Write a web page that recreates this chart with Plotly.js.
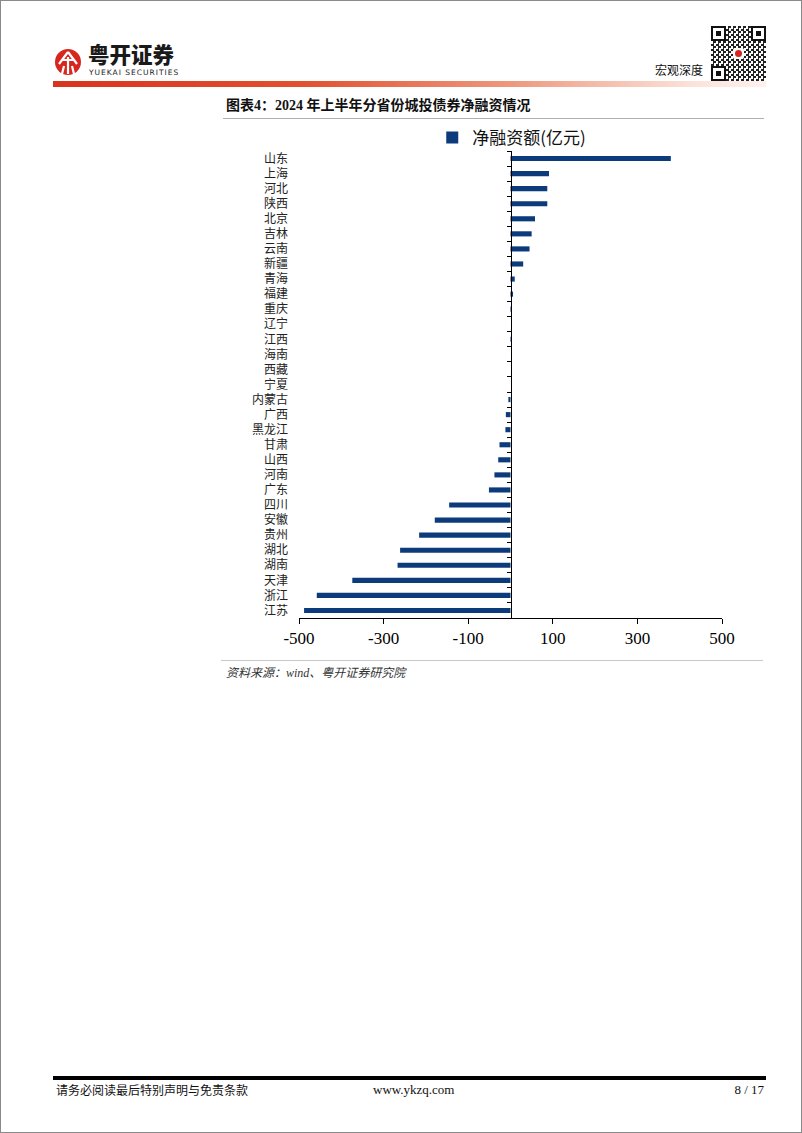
<!DOCTYPE html>
<html>
<head>
<meta charset="utf-8">
<script src="https://cdn.plot.ly/plotly-3.0.1.min.js"></script>
<style>
  html, body { margin:0; padding:0; background:#fff; }
  #page { position:relative; width:802px; height:1133px; box-sizing:border-box; border:1px solid #8a8a8a; overflow:hidden; font-family:"Liberation Serif","Noto Sans CJK SC",serif; }
  .abs { position:absolute; white-space:nowrap; }
  #chart { position:absolute; left:0; top:0; width:802px; height:700px; }
</style>
</head>
<body>
<div id="page">
  <!-- header logo -->
  <svg class="abs" style="left:52px;top:46px" width="30" height="30" viewBox="0 0 30 30">
    <circle cx="15" cy="15" r="13" fill="#d7261e"/>
    <path d="M15 5 L6 17 M15 5 L24 17 M9 13 H21 M15 10 V27 M11 19 L9 27 M19 19 L21 27" stroke="#fff" stroke-width="2.2" fill="none"/>
  </svg>
  <div class="abs" style="left:87px;top:42px;font-family:'Noto Sans CJK SC';font-weight:900;font-size:21.5px;color:#1a1a1a;line-height:22px">粤开证券</div>
  <div class="abs" style="left:88px;top:67px;font-family:'DejaVu Sans';font-size:7.5px;letter-spacing:1px;color:#1a1a1a;line-height:9px">YUEKAI SECURITIES</div>
  <div class="abs" style="left:654px;top:62px;font-family:'Noto Sans CJK SC';font-size:12px;color:#111;line-height:14px">宏观深度</div>
  <!-- QR -->
  <div class="abs" style="left:710px;top:25px;width:55px;height:55px;background:repeating-conic-gradient(#222 0 25%, #fff 0 50%) 0 0/5px 5px;">
    <div class="abs" style="left:0;top:0;width:11px;height:11px;border:2px solid #111;background:#fff"><div style="margin:3px;width:5px;height:5px;background:#111"></div></div>
    <div class="abs" style="left:40px;top:0;width:11px;height:11px;border:2px solid #111;background:#fff"><div style="margin:3px;width:5px;height:5px;background:#111"></div></div>
    <div class="abs" style="left:0;top:40px;width:11px;height:11px;border:2px solid #111;background:#fff"><div style="margin:3px;width:5px;height:5px;background:#111"></div></div>
    <div class="abs" style="left:22px;top:22px;width:11px;height:11px;background:#fff;border-radius:2px"><div style="margin:2px;width:7px;height:7px;background:#d7261e;border-radius:50%"></div></div>
  </div>
  <!-- gradient bar -->
  <div class="abs" style="left:52px;top:80px;width:713px;height:6px;background:linear-gradient(to right,#d9331c 0%,#e2502f 35%,#ee9a80 65%,#fbe3dc 90%,#fdf1ee 100%)"></div>
  <!-- title -->
  <div class="abs" style="left:225px;top:96px;font-family:'Liberation Serif','Noto Sans CJK SC';font-weight:bold;font-size:14px;color:#111;line-height:18px">图表4：2024 年上半年分省份城投债券净融资情况</div>
  <div class="abs" style="left:222px;top:117px;width:541px;height:1px;background:#b0b0b0"></div>
  <div id="chart"></div>
  <div class="abs" style="left:220px;top:659px;width:542px;height:1px;background:#c8c8c8"></div>
  <div class="abs" style="left:225px;top:664px;font-family:'Liberation Serif','Noto Sans CJK SC';font-style:italic;font-size:12px;color:#333;line-height:16px">资料来源：wind、粤开证券研究院</div>
  <!-- footer -->
  <div class="abs" style="left:52px;top:1075px;width:713px;height:4px;background:#000"></div>
  <div class="abs" style="left:55px;top:1081px;font-family:'Noto Sans CJK SC';font-size:12px;color:#111;line-height:16px">请务必阅读最后特别声明与免责条款</div>
  <div class="abs" style="left:372px;top:1081px;font-family:'Liberation Serif';font-size:13px;color:#111;line-height:16px">www.ykzq.com</div>
  <div class="abs" style="left:729px;top:1081px;width:34px;text-align:right;font-family:'Liberation Serif';font-size:13px;color:#111;line-height:16px">8 / 17</div>
</div>
<script>
const provinces = ["山东","上海","河北","陕西","北京","吉林","云南","新疆","青海","福建","重庆","辽宁","江西","海南","西藏","宁夏","内蒙古","广西","黑龙江","甘肃","山西","河南","广东","四川","安徽","贵州","湖北","湖南","天津","浙江","江苏"];
const netFinancing = [379,91,87,87,58,50,45,30,10,6,2,0,3,0,0,0,-5,-11,-12,-26,-29,-38,-51,-145,-179,-216,-261,-267,-374,-458,-488];
const seriesName = "净融资额(亿元)";
const xTicks = [-500,-300,-100,100,300,500];
const xTickText = ["-500","-300","-100","100","300","500"];
const n = provinces.length;

const traces = [
  {
    type:'bar', orientation:'h', x:netFinancing, y:provinces, name:seriesName,
    marker:{color:'#0c3b7c'}, yaxis:'y', showlegend:true, hoverinfo:'x+y'
  },
  {
    type:'scatter', mode:'none', x:netFinancing, y:provinces, yaxis:'y2',
    showlegend:false, hoverinfo:'skip'
  }
];

const layout = {
  width:802, height:700,
  margin:{l:298, r:81, t:150, b:83},
  paper_bgcolor:'rgba(0,0,0,0)', plot_bgcolor:'rgba(0,0,0,0)',
  bargap:0.66,
  showlegend:true,
  legend:{x:0.315, xanchor:'left', y:1.028, yanchor:'middle', orientation:'h', itemwidth:30,
          font:{family:'Noto Sans CJK SC', size:17, color:'#111'}, bgcolor:'rgba(0,0,0,0)'},
  xaxis:{range:[-500,500], tickmode:'array', tickvals:xTicks, ticktext:xTickText,
         showline:true, linecolor:'#000', linewidth:1, ticks:'outside', ticklen:5, tickcolor:'#000',
         showgrid:false, zeroline:false, fixedrange:true,
         tickfont:{family:'Liberation Serif', size:17, color:'#000'}},
  yaxis:{type:'category', categoryorder:'array', categoryarray:provinces, range:[n-0.5,-0.5],
         showline:false, ticks:'', showgrid:false, zeroline:false, ticklabelstandoff:10,
         tickfont:{family:'Noto Sans CJK SC', size:12, color:'#222'}},
  yaxis2:{type:'category', categoryorder:'array', categoryarray:provinces, range:[n-0.5,-0.5],
          overlaying:'y', anchor:'free', position:0.5, side:'left',
          showline:true, linecolor:'#000', linewidth:1.2, ticks:'outside', ticklen:4, tickcolor:'#000',
          tickson:'boundaries', showticklabels:false, showgrid:false, zeroline:false}
};
Plotly.newPlot('chart', traces, layout, {displayModeBar:false, staticPlot:true});
</script>
</body>
</html>
